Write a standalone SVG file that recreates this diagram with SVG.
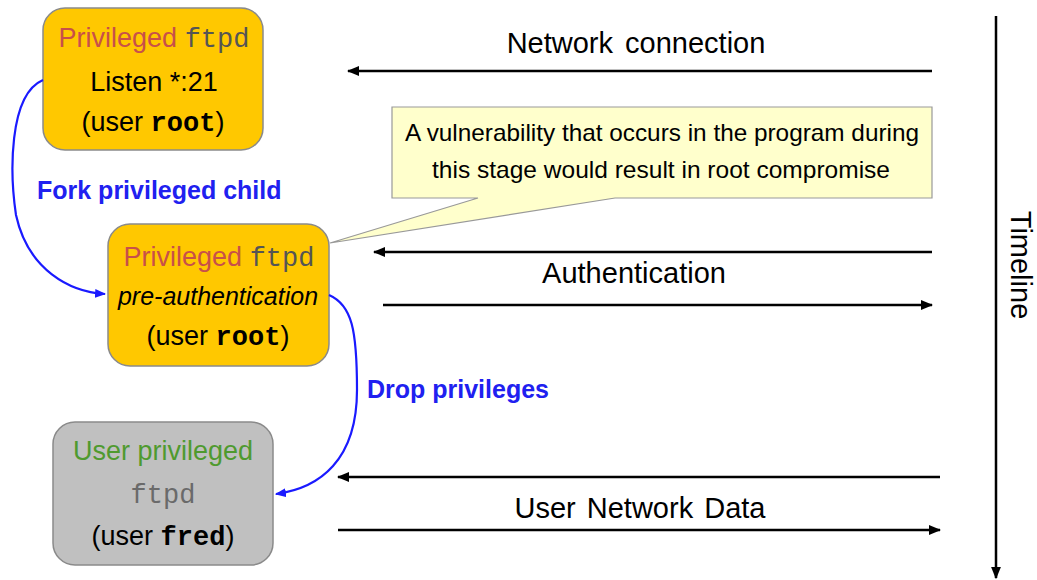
<svg xmlns="http://www.w3.org/2000/svg" width="1037" height="580" viewBox="0 0 1037 580">
<style>
.t{font-family:"Liberation Sans",Arial,sans-serif;font-size:27px;fill:#000;text-anchor:middle}
.r{font-size:29px}
.c{font-size:24px}
.i{font-size:25px;font-style:italic}
.m{font-family:"Liberation Mono","Courier New",monospace}
.mb{font-family:"Liberation Mono","Courier New",monospace;font-weight:bold}
.red{fill:#C8504A}
.grn{fill:#4F9A2F}
.gry{fill:#555}
.blue{font-family:"Liberation Sans",Arial,sans-serif;font-size:25px;font-weight:bold;fill:#2020F0}
.box{stroke:#8a8a8a;stroke-width:1.5}
.ar{stroke:#000;stroke-width:2.5;fill:none;marker-end:url(#ah)}
.bl{stroke:#1a1aff;stroke-width:2.2;fill:none;marker-end:url(#bh)}
</style>
<defs>
<marker id="ah" viewBox="0 0 10 10" refX="9" refY="5" markerWidth="5" markerHeight="5" orient="auto" markerUnits="strokeWidth">
<path d="M0,1 L10,5 L0,9 z" fill="#000"/>
</marker>
<marker id="bh" viewBox="0 0 10 10" refX="9" refY="5" markerWidth="5" markerHeight="5" orient="auto" markerUnits="strokeWidth">
<path d="M0,1 L10,5 L0,9 z" fill="#1a1aff"/>
</marker>
</defs>
<rect width="1037" height="580" fill="#fff"/>

<g id="callout">
<path d="M392,107 H932 V198 H615 L330,243 L478,198 H392 Z" fill="#FFFFCC" stroke="#999" stroke-width="1.2"/>
<text class="t c" x="662" y="141" textLength="514" lengthAdjust="spacingAndGlyphs">A vulnerability that occurs in the program during</text>
<text class="t c" x="661" y="178" textLength="458" lengthAdjust="spacingAndGlyphs">this stage would result in root compromise</text>
</g>

<g id="node-listen">
<rect class="box" x="43" y="8" width="220" height="142" rx="22" fill="#FFC800"/>
<text class="t" x="154" y="47"><tspan class="red">Privileged</tspan> <tspan class="m gry">ftpd</tspan></text>
<text class="t" x="154" y="91">Listen *:21</text>
<text class="t" x="153" y="131">(user <tspan class="mb">root</tspan>)</text>
</g>

<g id="node-preauth">
<rect class="box" x="108" y="224" width="221" height="142" rx="22" fill="#FFC800"/>
<text class="t" x="219" y="266"><tspan class="red">Privileged</tspan> <tspan class="m gry">ftpd</tspan></text>
<text class="t i" x="218" y="305">pre-authentication</text>
<text class="t" x="218" y="345">(user <tspan class="mb">root</tspan>)</text>
</g>

<g id="node-user">
<rect class="box" x="53" y="422" width="220" height="143" rx="22" fill="#C0C0C0"/>
<text class="t grn" x="163" y="460">User privileged</text>
<text class="t m" x="163" y="503" style="fill:#6a6a6a">ftpd</text>
<text class="t" x="163" y="545">(user <tspan class="mb">fred</tspan>)</text>
</g>

<g id="connectors">
<path class="bl" d="M43,80 C8,95 10,175 16,215 C28,270 70,292 105,294"/>
<path class="bl" d="M329,295 C352,305 357,330 357,390 C357,460 320,488 276,494"/>
<line class="ar" x1="932" y1="71" x2="348" y2="71"/>
<line class="ar" x1="932" y1="252" x2="374" y2="252"/>
<line class="ar" x1="383" y1="305" x2="932" y2="305"/>
<line class="ar" x1="940" y1="477" x2="338" y2="477"/>
<line class="ar" x1="338" y1="530" x2="940" y2="530"/>
<line class="ar" x1="996" y1="16" x2="996" y2="578"/>
</g>

<g id="labels">
<text class="blue" x="37" y="199">Fork privileged child</text>
<text class="blue" x="367" y="398">Drop privileges</text>
<text class="t r" x="636" y="53" word-spacing="4">Network connection</text>
<text class="t r" x="634" y="283">Authentication</text>
<text class="t r" x="640" y="518" word-spacing="3">User Network Data</text>
<text class="t r" transform="translate(1011,265) rotate(90)">Timeline</text>
</g>
</svg>
